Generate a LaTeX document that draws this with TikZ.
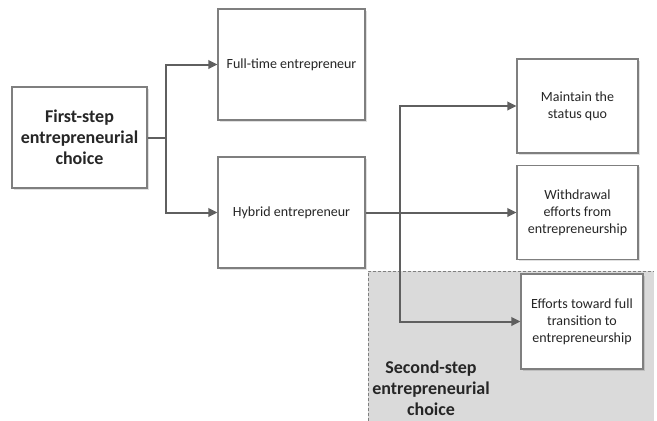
\documentclass[tikz,border=0pt]{standalone}
\usepackage{fontspec}
\setmainfont{Carlito}
\usetikzlibrary{arrows.meta,shadows}
\definecolor{boxline}{HTML}{7F7F7F}
\definecolor{arrline}{HTML}{5F5F5F}
\definecolor{txt}{HTML}{262626}
\definecolor{zone}{HTML}{DADADA}
\tikzset{
  box/.style={draw=boxline, line width=1.2pt, fill=white, align=center, text=txt,
    font=\fontsize{14}{17}\selectfont, inner sep=2pt,
    drop shadow={shadow xshift=1.6pt, shadow yshift=-1.6pt, fill=black, opacity=0.12}},
  bigbox/.style={box, font=\fontsize{18}{21}\selectfont\bfseries},
  conn/.style={draw=arrline, line width=2pt},
  arr/.style={conn, -{Triangle[length=9pt,width=8.5pt]}},
  zonelabel/.style={align=center, text=txt, font=\fontsize{18}{21}\selectfont\bfseries}
}
\begin{document}
\begin{tikzpicture}[x=1pt,y=-1pt]
\useasboundingbox (0,0) rectangle (657,421);
% grey zone
\fill[zone] (368,271) rectangle (654,421);
\draw[boxline, line width=0.8pt, dash pattern=on 3pt off 2pt] (368,421) -- (368,271) -- (654,271);
\node[zonelabel] (zl) at (431,388) {Second-step\\entrepreneurial\\choice};
% boxes
\node[bigbox, minimum width=135pt, minimum height=101pt] (first) at (79.5,137.5) {First-step\\entrepreneurial\\choice};
\node[box, minimum width=147pt, minimum height=111pt] (full) at (291.5,64.5) {Full-time entrepreneur};
\node[box, minimum width=147pt, minimum height=111pt] (hyb) at (291.5,212.5) {Hybrid entrepreneur};
\node[box, minimum width=121pt, minimum height=94pt] (main) at (577.5,106) {Maintain the\\status quo};
\node[box, minimum width=121pt, minimum height=94pt] (with) at (577.5,212.5) {Withdrawal\\efforts from\\entrepreneurship};
\node[box, minimum width=122pt, minimum height=95pt] (eff) at (582,321.5) {Efforts toward full\\transition to\\entrepreneurship};
% connectors
\coordinate (j1) at (166,137.5);
\coordinate (j1t) at (166,64.5);
\coordinate (j1b) at (166,212.5);
\draw[conn] (first.east) -- (j1);
\draw[arr] (j1) -- (j1t) -- (full.west);
\draw[arr] (j1) -- (j1b) -- (hyb.west);
\coordinate (j2) at (400,212.5);
\coordinate (j2t) at (400,106);
\coordinate (j2b) at (400,321.5);
\draw[conn] (hyb.east) -- (j2);
\draw[arr] (j2) -- (j2t) -- (main.west);
\draw[arr] (j2) -- (with.west);
\draw[arr] (j2) -- (j2b) -- (eff.west);
\end{tikzpicture}
\end{document}
